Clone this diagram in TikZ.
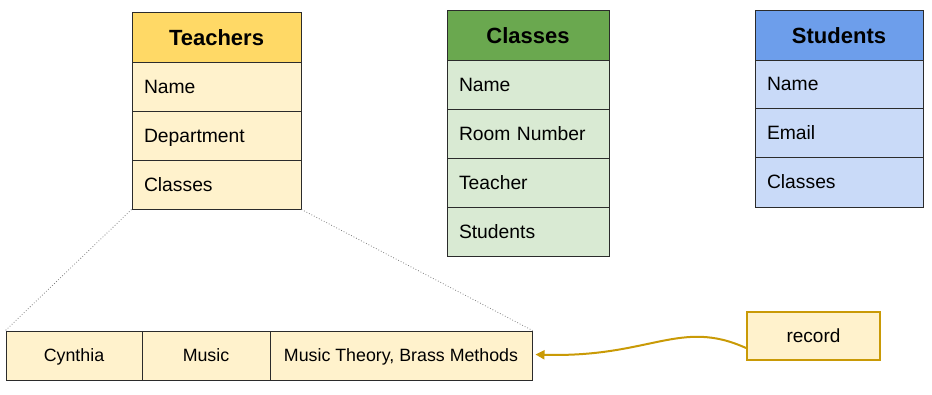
\documentclass[tikz,border=0pt]{standalone}
\usepackage{fontspec}
\setmainfont{Liberation Sans}
\usetikzlibrary{arrows.meta}
\definecolor{tHead}{HTML}{FFD966}
\definecolor{tRow}{HTML}{FFF2CC}
\definecolor{cHead}{HTML}{6AA84F}
\definecolor{cRow}{HTML}{D9EAD3}
\definecolor{sHead}{HTML}{6D9EEB}
\definecolor{sRow}{HTML}{C9DAF8}
\definecolor{gold}{HTML}{C99A06}
\definecolor{edge}{HTML}{2B2B2B}
\tikzset{
  cellbase/.style={draw=edge, line width=1pt, rectangle, inner ysep=0pt},
  headcell/.style={cellbase, font=\fontsize{22}{25}\selectfont\bfseries, align=center, text height=19pt, text depth=3pt},
  rowcell/.style={cellbase, font=\fontsize{19.3}{22}\selectfont, align=left, inner xsep=12pt, text height=16.5pt, text depth=3.5pt},
  reccell/.style={cellbase, fill=tRow, font=\fontsize{17.8}{20}\selectfont, align=center, minimum height=49pt, text height=15pt, text depth=3pt},
  zoomline/.style={draw=gray, dotted, line width=0.8pt},
  goldarrow/.style={draw=gold, line width=2pt, -{Triangle[length=9pt,width=9pt]}}
}
\begin{document}
\begin{tikzpicture}[x=1pt,y=-1pt]
\useasboundingbox (0,0) rectangle (932,394);
% Teachers
\node[headcell, fill=tHead, minimum width=169pt, minimum height=50pt] (th) at (216.5,37) {Teachers};
\node[rowcell, fill=tRow, minimum height=49pt, text width=145pt] (t1) at (216.5,86.5) {Name};
\node[rowcell, fill=tRow, minimum height=49pt, text width=145pt] (t2) at (216.5,135.5) {Department};
\node[rowcell, fill=tRow, minimum height=49pt, text width=145pt] (t3) at (216.5,184.5) {Classes};
% Classes
\node[headcell, fill=cHead, minimum width=162pt, minimum height=50pt] (ch) at (528,35) {Classes};
\node[rowcell, fill=cRow, minimum height=49pt, text width=138pt] (c1) at (528,84.5) {Name};
\node[rowcell, fill=cRow, minimum height=49pt, text width=138pt] (c2) at (528,133.5) {Room Number};
\node[rowcell, fill=cRow, minimum height=49pt, text width=138pt] (c3) at (528,182.5) {Teacher};
\node[rowcell, fill=cRow, minimum height=49pt, text width=138pt] (c4) at (528,231.5) {Students};
% Students
\node[headcell, fill=sHead, minimum width=168pt, minimum height=50pt] (sh) at (839,35) {Students};
\node[rowcell, fill=sRow, minimum height=48pt, text width=144pt] (s1) at (839,84) {Name};
\node[rowcell, fill=sRow, minimum height=49pt, text width=144pt] (s2) at (839,132.5) {Email};
\node[rowcell, fill=sRow, minimum height=50pt, text width=144pt] (s3) at (839,182) {Classes};
% Record row
\node[reccell, minimum width=136pt] (r1) at (74,355.5) {Cynthia};
\node[reccell, minimum width=128pt] (r2) at (206,355.5) {Music};
\node[reccell, minimum width=262pt] (r3) at (401,355.5) {Music Theory, Brass Methods};
% zoom lines
\draw[zoomline] (t3.south west) -- (r1.north west);
\draw[zoomline] (t3.south east) -- (r3.north east);
% record label
\node[draw=gold, line width=2pt, fill=tRow, minimum width=133pt, minimum height=48pt, font=\fontsize{19}{22}\selectfont] (rec) at (813.5,336) {record};
\coordinate (recout) at ([yshift=-12pt]rec.west);
\coordinate (tip) at ([xshift=3pt,yshift=1pt]r3.east);
\draw[goldarrow] (recout) .. controls (680,318) and (650,358) .. (tip);
\end{tikzpicture}
\end{document}
